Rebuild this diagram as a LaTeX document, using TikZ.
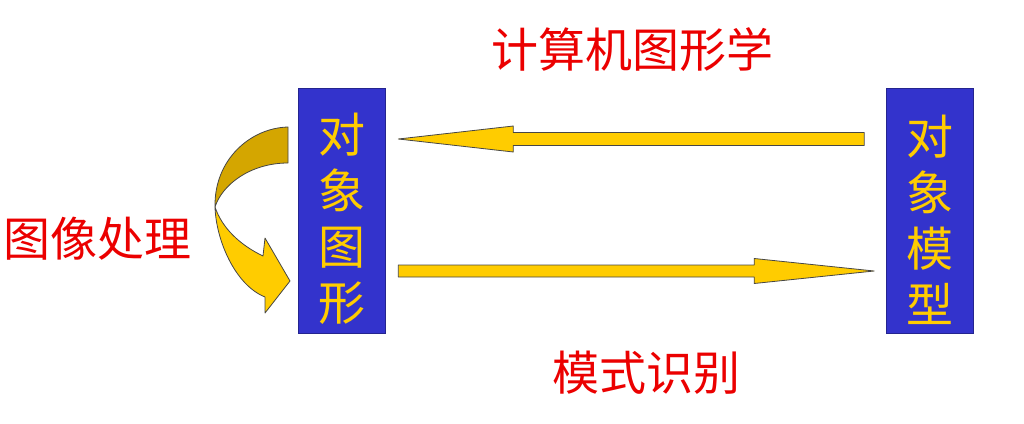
\documentclass[tikz,border=0pt]{standalone}
\usepackage{fontspec}
\newfontfamily\cjk{Noto Sans CJK SC}
\usetikzlibrary{calc}
\definecolor{boxblue}{RGB}{51,51,204}
\definecolor{goldtext}{RGB}{255,204,0}
\definecolor{arrowfill}{RGB}{255,204,0}
\definecolor{darkgold}{RGB}{212,166,0}
\definecolor{labelred}{RGB}{235,0,0}
\definecolor{edge}{RGB}{70,70,70}
\tikzset{
  box/.style={draw=boxblue!70!black, line width=0.6pt, fill=boxblue, minimum width=87pt, minimum height=245pt, inner sep=0pt},
  boxtext/.style={text=goldtext, font=\cjk\fontsize{47}{56}\selectfont, align=center, inner sep=0pt},
  redlabel/.style={text=labelred, font=\cjk\fontsize{47}{50}\selectfont, inner sep=0pt},
  blockarrow/.style={draw=edge, line width=0.8pt, fill=arrowfill, line join=round},
}
\begin{document}
\begin{tikzpicture}[x=1pt,y=-1pt]
\useasboundingbox (0,0) rectangle (1024,423);
% boxes
\node[box] (L) at (341.5,211) {};
\node[box] (R) at (930,211) {};
\node[boxtext] (Lt) at ($(L.center)+(0,8)$) {对\\象\\图\\形};
\node[boxtext] (Rt) at ($(R.center)+(0,9)$) {对\\象\\模\\型};
% labels
\node[redlabel] (cg) at (632,50) {计算机图形学};
\node[redlabel] (ip) at (97,239) {图像处理};
\node[redlabel] (pr) at (646,373) {模式识别};
% top arrow: from R to L
\coordinate (Ts) at ($(R.west)+(-22,-72)$);
\coordinate (Tt) at ($(L.east)+(13,-72)$);
\draw[blockarrow] ($(Ts)+(0,-6.5)$) -- ($(Tt)+(115,-6.5)$) -- ($(Tt)+(115,-13)$) -- (Tt)
  -- ($(Tt)+(115,13)$) -- ($(Tt)+(115,6.5)$) -- ($(Ts)+(0,6.5)$) -- cycle;
% bottom arrow: from L to R
\coordinate (Bs) at ($(L.east)+(13,60)$);
\coordinate (Bt) at ($(R.west)+(-12,60)$);
\draw[blockarrow] ($(Bs)+(0,-6)$) -- ($(Bt)+(-120,-6)$) -- ($(Bt)+(-120,-12.5)$) -- (Bt)
  -- ($(Bt)+(-120,12.5)$) -- ($(Bt)+(-120,6)$) -- ($(Bs)+(0,6)$) -- cycle;
% curved arrow (image processing loop)
\coordinate (C0) at (215,207);
\draw[blockarrow, fill=darkgold] (288,127) .. controls (250,128) and (214,160) .. (C0)
  .. controls (222,185) and (250,163) .. (288,163) -- cycle;
\draw[blockarrow] (C0) .. controls (216,240) and (235,285) .. (265,297) -- (265,313) -- (290,281)
  -- (265,238) -- (263,256) .. controls (240,245) and (222,228) .. (C0) -- cycle;
\end{tikzpicture}
\end{document}
